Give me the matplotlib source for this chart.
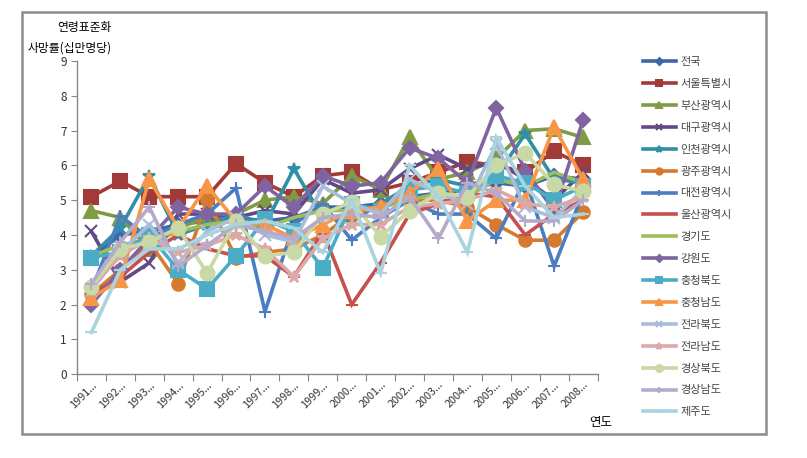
import numpy as np
import matplotlib
matplotlib.use("Agg")
import matplotlib.pyplot as plt
from matplotlib.patches import Rectangle

plt.rcParams['font.family'] = ['Noto Sans CJK KR', 'DejaVu Sans']

years = [str(y) + "..." for y in range(1991, 2009)]

regions = ["전국", "서울특별시", "부산광역시", "대구광역시", "인천광역시", "광주광역시",
           "대전광역시", "울산광역시", "경기도", "강원도", "충청북도", "충청남도",
           "전라북도", "전라남도", "경상북도", "경상남도", "제주도"]

nation   = [3.35, 4.0, 4.1, 4.3, 4.4, 4.5, 4.4, 4.5, 4.8, 4.8, 4.9, 5.1, 5.2, 5.3, 5.5, 5.4, 5.7, 5.6]
seoul    = [5.1, 5.55, 5.1, 5.1, 5.1, 6.05, 5.5, 5.1, 5.7, 5.8, 5.3, 5.5, 5.8, 6.1, 6.0, 5.8, 6.4, 6.0]
busan    = [4.7, 4.5, 3.6, 4.2, 4.5, 4.6, 5.0, 5.1, 4.9, 5.7, 5.3, 6.8, 5.6, 5.8, 6.2, 7.0, 7.05, 6.8]
daegu    = [4.1, 2.65, 3.2, 4.6, 4.6, 4.5, 4.7, 4.6, 5.6, 5.2, 5.3, 5.9, 6.3, 5.9, 6.1, 5.6, 5.0, 5.8]
incheon  = [3.4, 4.2, 5.7, 4.0, 4.3, 4.6, 4.3, 5.9, 4.5, 4.4, 4.9, 5.4, 5.6, 5.4, 5.7, 6.9, 5.6, 5.5]
gwangju  = [2.3, 3.0, 3.8, 2.6, 5.0, 3.35, 3.5, 3.6, 4.0, 4.6, 4.8, 5.0, 5.0, 4.8, 4.3, 3.85, 3.85, 4.65]
daejeon  = [2.4, 4.55, 3.9, 4.3, 4.6, 5.35, 1.8, 4.3, 4.9, 3.85, 4.5, 5.0, 4.6, 4.6, 3.9, 5.6, 3.1, 5.2]
ulsan    = [2.3, 2.8, 3.5, 4.0, 3.6, 3.4, 3.4, 2.8, 4.1, 2.0, 3.2, 4.6, 4.9, 5.2, 5.1, 4.0, 4.6, 5.0]
gyeonggi = [3.4, 3.7, 3.9, 4.1, 4.3, 4.4, 4.2, 4.5, 4.7, 4.7, 4.8, 5.0, 5.2, 5.1, 5.6, 5.4, 5.8, 5.5]
gangwon  = [2.0, 3.0, 3.9, 4.8, 4.6, 4.6, 5.4, 4.8, 5.7, 5.4, 5.5, 6.5, 6.2, 5.5, 7.65, 5.85, 4.7, 7.3]
chungbuk = [3.35, 3.5, 4.0, 3.0, 2.45, 3.4, 4.45, 4.1, 3.05, 4.9, 4.7, 5.3, 5.4, 5.2, 5.7, 5.5, 5.0, 5.4]
chungnam = [2.2, 2.7, 5.6, 4.2, 5.4, 4.4, 4.3, 3.9, 4.3, 4.7, 4.8, 5.2, 5.9, 4.4, 5.0, 5.0, 7.1, 5.6]
jeonbuk  = [2.4, 3.5, 4.3, 3.2, 4.1, 4.5, 4.0, 3.8, 5.4, 4.9, 4.6, 5.6, 5.2, 4.9, 6.6, 4.8, 4.5, 5.3]
jeonnam  = [2.5, 3.4, 3.9, 3.5, 3.7, 4.0, 3.6, 2.8, 3.9, 4.3, 4.3, 4.8, 4.9, 5.0, 5.3, 4.9, 4.8, 5.1]
gyeongbuk = [2.5, 3.6, 3.8, 4.2, 2.9, 4.4, 3.4, 3.5, 4.6, 4.95, 3.95, 4.7, 5.2, 5.1, 6.0, 6.35, 5.45, 5.25]
gyeongnam = [2.6, 3.8, 4.8, 3.1, 3.7, 4.3, 4.1, 3.9, 4.5, 4.6, 4.5, 5.1, 3.9, 5.5, 5.2, 4.4, 4.4, 5.0]
jeju     = [1.2, 3.0, 3.6, 3.6, 4.0, 4.3, 4.4, 4.2, 3.5, 5.0, 2.9, 6.0, 5.1, 3.5, 6.8, 5.4, 4.5, 4.6]

series = [nation, seoul, busan, daegu, incheon, gwangju, daejeon, ulsan, gyeonggi,
          gangwon, chungbuk, chungnam, jeonbuk, jeonnam, gyeongbuk, gyeongnam, jeju]

colors = ["#3B68A8", "#A33A37", "#7F9C45", "#634985", "#2F8FA8", "#D67A30",
          "#4A7EC0", "#C5504C", "#9DBE5A", "#8064A2", "#4BACC6", "#F79646",
          "#A9BCD9", "#DBA9A7", "#C9D9A6", "#B6AACB", "#A8D3DF"]
markers = ["D", "s", "^", "x", "*", "o", "+", "_", "None",
           "D", "s", "^", "x", "*", "o", "+", "_"]
msizes = [7, 10, 10, 8, 9, 9, 9, 8, 0, 7, 10, 10, 8, 9, 10, 9, 8]

fig = plt.figure(figsize=(8.07, 4.58), dpi=100)
ax = fig.add_axes([0.0954, 0.183, 0.645, 0.684])

x = np.arange(len(years))
for vals, name, c, m, ms in zip(series, regions, colors, markers, msizes):
    ax.plot(x, vals, color=c, lw=2.6, marker=m, markersize=ms,
            markeredgewidth=1.5, label=name, solid_joinstyle='miter')

ax.set_xlim(-0.5, len(years) - 0.5)
ax.set_ylim(0, 9)
ax.set_yticks(range(0, 10))
ax.set_xticks(np.arange(-0.5, len(years), 1), minor=False)
ax.set_xticklabels([])
ax.set_xticks(x, minor=True)
ax.set_xticklabels(years, minor=True, rotation=45, ha='right', va='top',
                   rotation_mode='anchor', fontsize=7.8, color='#333333')
ax.tick_params(axis='x', which='minor', length=0, pad=4)
ax.tick_params(axis='x', which='major', length=5, color='#868686', direction='out')
ax.tick_params(axis='y', length=4, color='#868686', labelsize=8.5, labelcolor='#333333')
for s in ['top', 'right']:
    ax.spines[s].set_visible(False)
for s in ['left', 'bottom']:
    ax.spines[s].set_color('#868686')
    ax.spines[s].set_linewidth(1.0)

fig.text(0.105, 0.94, "연령표준화", ha='center', va='center', fontsize=8.5)
fig.text(0.034, 0.895, "사망률(십만명당)", ha='left', va='center', fontsize=8.5)
fig.text(0.745, 0.078, "연도", ha='center', va='center', fontsize=9)

fig.legend(loc='upper left', bbox_to_anchor=(0.791, 0.885), frameon=False,
           fontsize=8, handlelength=3.0, labelspacing=1.07, markerscale=0.5,
           borderaxespad=0, handletextpad=0.4, labelcolor='#444444')

fig.patches.append(Rectangle((22 / 807, 1 - 434 / 458), (766 - 22) / 807, (434 - 12) / 458,
                             transform=fig.transFigure, fill=False,
                             edgecolor='#8C8C8C', lw=1.8))

fig.savefig("out.png", dpi=100)
